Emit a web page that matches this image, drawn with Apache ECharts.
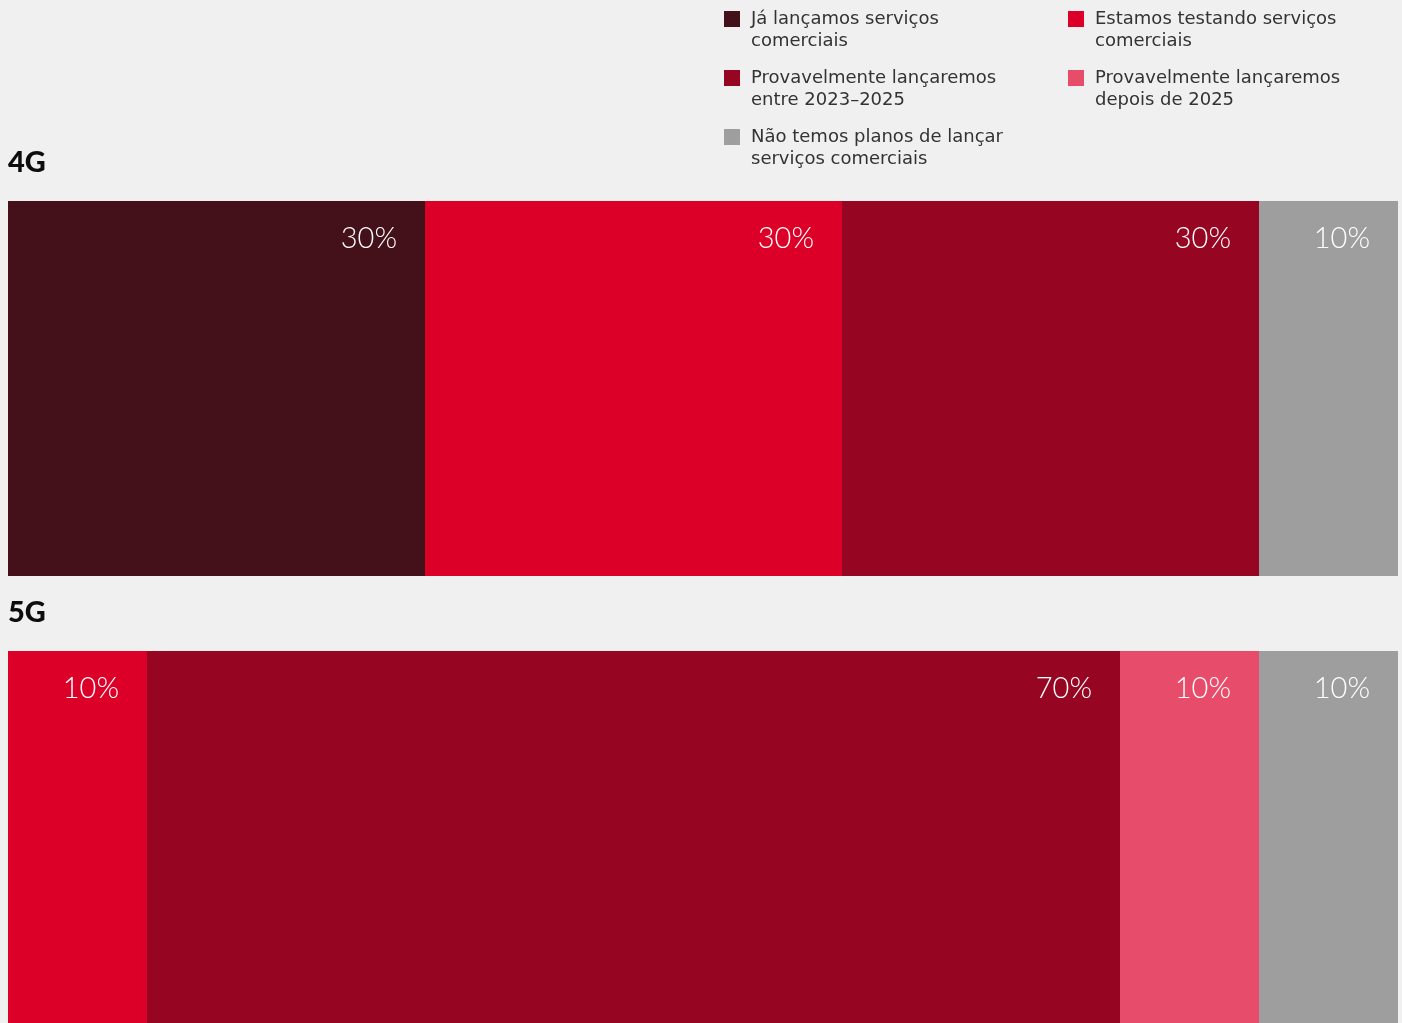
<!DOCTYPE html>
<html>
<head>
<meta charset="utf-8">
<script src="https://cdn.jsdelivr.net/npm/echarts@6/dist/echarts.min.js"></script>
<style>
  html, body { margin: 0; padding: 0; background: #f0f0f0; }
  #chart { width: 1402px; height: 1023px; }
</style>
</head>
<body>
<div id="chart"></div>
<script>
// Network generations, one stacked bar each
const categories = ['4G', '5G'];

// Status of commercial service launch (share of respondents, %)
const seriesNames = [
  'Já lançamos serviços\ncomerciais',
  'Estamos testando serviços\ncomerciais',
  'Provavelmente lançaremos\nentre 2023–2025',
  'Provavelmente lançaremos\ndepois de 2025',
  'Não temos planos de lançar\nserviços comerciais'
];
const launched    = [30, 0];
const testing     = [30, 10];
const launch2325  = [30, 70];
const launchAfter = [0, 10];
const noPlans     = [10, 10];
const seriesValues = [launched, testing, launch2325, launchAfter, noPlans];

const colors = ['#44111b', '#dc0029', '#960623', '#e84c6b', '#9e9e9e'];

const chart = echarts.init(document.getElementById('chart'));

const barTop = [201, 651];
const barHeight = 375;

// 1390 px wide plot: every 10 % step lands on a whole pixel, so the
// segments meet without anti-aliased seams
const grids = categories.map((c, i) => ({
  left: 8, width: 1390, top: barTop[i], height: barHeight, containLabel: false
}));
const xAxes = categories.map((c, i) => ({
  gridIndex: i, type: 'value', min: 0, max: 100, show: false
}));
const yAxes = categories.map((c, i) => ({
  gridIndex: i, type: 'category', data: [c],
  axisLine: { show: false }, axisTick: { show: false }, axisLabel: { show: false },
  splitLine: { show: false },
  name: c, nameLocation: 'end', nameGap: 38,
  nameTextStyle: {
    align: 'left', verticalAlign: 'middle', color: '#0d0d0d',
    fontFamily: 'Lato', fontWeight: 900, fontSize: 29, padding: [0, 0, 0, 0]
  }
}));

const series = [];
categories.forEach((c, i) => {
  seriesNames.forEach((name, s) => {
    series.push({
      type: 'bar', name, stack: 'g' + i,
      xAxisIndex: i, yAxisIndex: i,
      barWidth: '100%',
      itemStyle: { color: colors[s], borderWidth: 0 },
      label: {
        show: true, position: 'insideTopRight', distance: 0,
        offset: [-28, 23],
        color: '#ffffff', fontFamily: 'Lato', fontWeight: 300, fontSize: 29,
        formatter: p => (p.value ? p.value + '%' : '')
      },
      emphasis: { disabled: true },
      data: [seriesValues[s][i]]
    });
  });
});

// leading empty line keeps the swatch level with the first text line
const legendBase = {
  orient: 'vertical', top: -14, itemGap: -7, padding: 0,
  itemWidth: 16, itemHeight: 16, icon: 'rect', itemStyle: { borderWidth: 0 },
  selectedMode: false,
  formatter: n => '\n' + n,
  textStyle: {
    color: '#333', fontFamily: 'DejaVu Sans', fontSize: 18, lineHeight: 22,
    padding: [0, 0, 0, 6]
  }
};

chart.setOption({
  backgroundColor: '#f0f0f0',
  animation: false,
  color: colors,
  legend: [
    Object.assign({}, legendBase, {
      left: 724, data: [seriesNames[0], seriesNames[2], seriesNames[4]]
    }),
    Object.assign({}, legendBase, {
      left: 1068, data: [seriesNames[1], seriesNames[3]]
    })
  ],
  grid: grids,
  xAxis: xAxes,
  yAxis: yAxes,
  series
});
</script>
</body>
</html>
